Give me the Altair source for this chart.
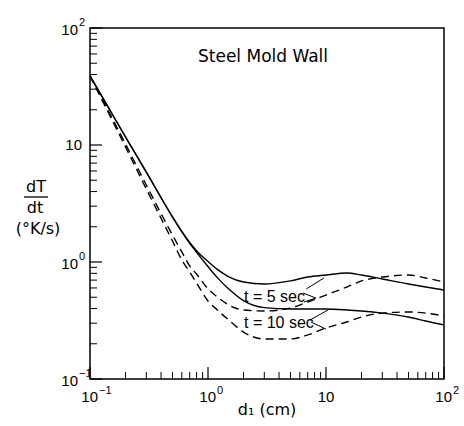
import altair as alt
import pandas as pd

# ---- data ----
d = [0.1, 0.2, 0.3, 0.5, 0.6, 0.7, 0.8, 1, 1.2, 1.5, 2, 3, 5, 7, 10, 15, 20, 30, 50, 70, 100]
solid_5 = [38.9, 11.7, 5.87, 2.43, 1.82, 1.47, 1.25, 1.01, 0.865, 0.748, 0.675, 0.648, 0.689,
           0.744, 0.774, 0.805, 0.774, 0.716, 0.648, 0.611, 0.577]
solid_10 = [38.9, 11.7, 5.87, 2.43, 1.82, 1.445, 1.21, 0.914, 0.735, 0.587, 0.467, 0.407, 0.396,
            0.396, 0.396, 0.389, 0.381, 0.366, 0.339, 0.313, 0.290]
dashed_5 = [38.9, 10.2, 4.55, 1.70, 1.22, 0.924, 0.789, 0.59, 0.502, 0.429, 0.389, 0.381, 0.404,
            0.455, 0.522, 0.611, 0.689, 0.744, 0.774, 0.730, 0.675]
dashed_10 = [38.9, 9.61, 4.21, 1.51, 1.04, 0.822, 0.662, 0.464, 0.389, 0.319, 0.252, 0.220, 0.220,
             0.238, 0.273, 0.307, 0.339, 0.366, 0.374, 0.366, 0.345]

# leader lines from labels to curves
lead_x1 = [6.8, 6.4, 6.5, 7.3, 7.45]
lead_y1 = [0.588, 0.543, 0.455, 0.319, 0.307]
lead_x2 = [9.6, 8.2, 8.2, 10.4, 10.0]
lead_y2 = [0.730, 0.492, 0.492, 0.389, 0.267]

label_text = ["t = 5 sec", "t = 10 sec"]
label_x = [2.02, 2.02]
label_y = [0.502, 0.301]

major_ticks = [0.1, 1, 10, 100]
minor_ticks = [k * m for m in (0.1, 1, 10) for k in range(2, 10)]

ylab_vals = [100, 10, 1, 0.1]
ylab_exp = ["2", "", "0", "\u22121"]
xlab_vals = [0.1, 1, 10, 100]
xlab_exp = ["\u22121", "0", "", "2"]

FONT = "DejaVu Sans"
LFONT = "Liberation Sans"

xs = alt.Scale(type="log", domain=[0.1, 100], nice=False)
ys = alt.Scale(type="log", domain=[0.1, 100], nice=False)

rows = []
for name, style, vals in [("s5", "solid", solid_5), ("s10", "solid", solid_10),
                          ("d5", "dashed", dashed_5), ("d10", "dashed", dashed_10)]:
    for dv, v in zip(d, vals):
        rows.append({"d": dv, "rate": v, "series": name, "style": style})
curves = pd.DataFrame(rows)

base_enc = dict(
    x=alt.X("d:Q", scale=xs, axis=None),
    y=alt.Y("rate:Q", scale=ys, axis=None),
    detail="series:N",
)
solid = alt.Chart(curves).transform_filter("datum.style == 'solid'").mark_line(
    color="black", strokeWidth=1.4, interpolate="monotone").encode(**base_enc)
dashed = alt.Chart(curves).transform_filter("datum.style == 'dashed'").mark_line(
    color="black", strokeWidth=1.4, interpolate="monotone", strokeDash=[8, 5]).encode(**base_enc)

leaders = alt.Chart(pd.DataFrame({"x1": lead_x1, "y1": lead_y1, "x2": lead_x2, "y2": lead_y2})).mark_rule(
    color="black", strokeWidth=1.0).encode(
    x=alt.X("x1:Q", scale=xs, axis=None), x2="x2:Q",
    y=alt.Y("y1:Q", scale=ys, axis=None), y2="y2:Q")

labels = alt.Chart(pd.DataFrame({"t": label_text, "x": label_x, "y": label_y})).mark_text(
    align="left", baseline="middle", font=LFONT, fontSize=16, color="black").encode(
    x=alt.X("x:Q", scale=xs, axis=None), y=alt.Y("y:Q", scale=ys, axis=None), text="t:N")

# inward ticks
maj_df = pd.DataFrame({"v": major_ticks})
min_df = pd.DataFrame({"v": minor_ticks})
ytick_maj = alt.Chart(maj_df).mark_rule(color="black", strokeWidth=1.2).encode(
    y=alt.Y("v:Q", scale=ys, axis=None), x=alt.value(0), x2=alt.value(12))
ytick_min = alt.Chart(min_df).mark_rule(color="black", strokeWidth=1.0).encode(
    y=alt.Y("v:Q", scale=ys, axis=None), x=alt.value(0), x2=alt.value(7))
xtick_maj = alt.Chart(maj_df).mark_rule(color="black", strokeWidth=1.2).encode(
    x=alt.X("v:Q", scale=xs, axis=None), y=alt.value(351), y2=alt.value(339))
xtick_min = alt.Chart(min_df).mark_rule(color="black", strokeWidth=1.0).encode(
    x=alt.X("v:Q", scale=xs, axis=None), y=alt.value(351), y2=alt.value(344))

# tick labels (base + raised exponent)
ylab = pd.DataFrame({"v": ylab_vals, "b": ["10"] * 4, "e": ylab_exp})
xlab = pd.DataFrame({"v": xlab_vals, "b": ["10"] * 4, "e": xlab_exp})

ylab_base_e = alt.Chart(ylab).transform_filter("datum.e != ''").mark_text(
    align="right", baseline="middle", font=LFONT, fontSize=15, dy=2, color="black").encode(
    y=alt.Y("v:Q", scale=ys, axis=None), x=alt.value(-12), text="b:N")
ylab_exp = alt.Chart(ylab).transform_filter("datum.e != ''").mark_text(
    align="left", baseline="middle", font=LFONT, fontSize=11, dy=-5, color="black").encode(
    y=alt.Y("v:Q", scale=ys, axis=None), x=alt.value(-11), text="e:N")
ylab_plain = alt.Chart(ylab).transform_filter("datum.e == ''").mark_text(
    align="right", baseline="middle", font=LFONT, fontSize=15, color="black").encode(
    y=alt.Y("v:Q", scale=ys, axis=None), x=alt.value(-8), text="b:N")

xlab_base_e = alt.Chart(xlab).transform_filter("datum.e != ''").mark_text(
    align="right", baseline="middle", font=LFONT, fontSize=15, dx=8, color="black").encode(
    x=alt.X("v:Q", scale=xs, axis=None), y=alt.value(369), text="b:N")
xlab_exp = alt.Chart(xlab).transform_filter("datum.e != ''").mark_text(
    align="left", baseline="middle", font=LFONT, fontSize=11, dx=9, dy=-6, color="black").encode(
    x=alt.X("v:Q", scale=xs, axis=None), y=alt.value(369), text="e:N")
xlab_plain = alt.Chart(xlab).transform_filter("datum.e == ''").mark_text(
    align="center", baseline="middle", font=LFONT, fontSize=15, color="black").encode(
    x=alt.X("v:Q", scale=xs, axis=None), y=alt.value(369), text="b:N")

# titles
one = pd.DataFrame({"t": ["Steel Mold Wall"]})
title_main = alt.Chart(one).mark_text(font=FONT, fontSize=17, color="black",
                                      align="center", baseline="middle").encode(
    text="t:N", x=alt.value(173), y=alt.value(29))

ytitle_df = pd.DataFrame({"t": ["dT", "dt", "(\u00b0K/s)"], "k": [0, 1, 2]})
yt1 = alt.Chart(ytitle_df).transform_filter("datum.k == 0").mark_text(
    font=FONT, fontSize=16, color="black", align="center", baseline="middle").encode(
    text="t:N", x=alt.value(-54), y=alt.value(159))
yt2 = alt.Chart(ytitle_df).transform_filter("datum.k == 1").mark_text(
    font=FONT, fontSize=16, color="black", align="center", baseline="middle").encode(
    text="t:N", x=alt.value(-55), y=alt.value(180))
yt3 = alt.Chart(ytitle_df).transform_filter("datum.k == 2").mark_text(
    font=FONT, fontSize=16, color="black", align="center", baseline="middle").encode(
    text="t:N", x=alt.value(-52), y=alt.value(201))
frac = alt.Chart(one).mark_rule(color="black", strokeWidth=1.3).encode(
    x=alt.value(-66), x2=alt.value(-42), y=alt.value(169))

xtitle = alt.Chart(pd.DataFrame({"t": ["d\u2081 (cm)"]})).mark_text(
    font=FONT, fontSize=16, color="black", align="center", baseline="middle").encode(
    text="t:N", x=alt.value(177), y=alt.value(382))

chart = alt.layer(
    solid, dashed, leaders, labels,
    ytick_maj, ytick_min, xtick_maj, xtick_min,
    ylab_base_e, ylab_exp, ylab_plain, xlab_base_e, xlab_exp, xlab_plain,
    title_main, yt1, yt2, yt3, frac, xtitle,
).properties(
    width=354, height=351,
    autosize=alt.AutoSizeParams(type="none"),
    padding={"left": 90, "top": 28, "right": 20, "bottom": 47},
    background="white",
).configure_view(stroke="black", strokeWidth=1.5)

chart.save("out.html", embed_options={"renderer": "svg", "actions": False})
